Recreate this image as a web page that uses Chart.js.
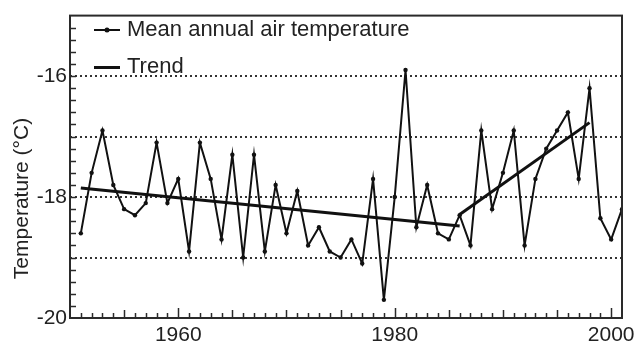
<!DOCTYPE html>
<html>
<head>
<meta charset="utf-8">
<script src="https://cdn.jsdelivr.net/npm/chart.js@4"></script>
<style>
html,body{margin:0;padding:0;background:#fff;}
#wrap{width:640px;height:343px;position:relative;}
</style>
</head>
<body>
<div id="wrap"><canvas id="c" width="640" height="343"></canvas></div>
<script>
// ---- data ----
const years = [1951,1952,1953,1954,1955,1956,1957,1958,1959,1960,1961,1962,1963,1964,1965,1966,1967,1968,1969,1970,1971,1972,1973,1974,1975,1976,1977,1978,1979,1980,1981,1982,1983,1984,1985,1986,1987,1988,1989,1990,1991,1992,1993,1994,1995,1996,1997,1998,1999,2000,2001];
const temps = [-18.6,-17.6,-16.9,-17.8,-18.2,-18.3,-18.1,-17.1,-18.1,-17.7,-18.9,-17.1,-17.7,-18.7,-17.3,-19.0,-17.3,-18.9,-17.8,-18.6,-17.9,-18.8,-18.5,-18.9,-19.0,-18.7,-19.1,-17.7,-19.7,-18.0,-15.9,-18.5,-17.8,-18.6,-18.7,-18.3,-18.8,-16.9,-18.2,-17.6,-16.9,-18.8,-17.7,-17.2,-16.9,-16.6,-17.7,-16.2,-18.35,-18.7,-18.2];
const trend1Years = [1951, 1986];
const trend1Values = [-17.85, -18.48];
const trend2Years = [1986, 1998];
const trend2Values = [-18.29, -16.77];
const xLabelTicks = [1960, 1980, 2000];
const yTicks = [-20, -19, -18, -17, -16, -15];
const yLabelTicks = [-20, -18, -16];
const seriesNames = ['Mean annual air temperature', 'Trend'];

const FONT = '"Liberation Sans", Arial, sans-serif';
const INK = '#111';

function sample(withDot, lw) {
  const c = document.createElement('canvas');
  c.width = 26; c.height = 10;
  const g = c.getContext('2d');
  g.strokeStyle = INK; g.lineWidth = lw;
  const yy = lw % 2 === 0 ? 5 : 5.5;
  g.beginPath(); g.moveTo(0, yy); g.lineTo(26, yy); g.stroke();
  if (withDot) { g.fillStyle = INK; g.beginPath(); g.arc(13, yy, 2.5, 0, Math.PI*2); g.fill(); }
  return c;
}
const sampleSeries = sample(true, 2);
const sampleTrend = sample(false, 3);

const decor = {
  id: 'decor',
  afterLayout(chart) {
    if (chart.legend) { chart.legend.left += 13; chart.legend.top += 4; }
  },
  afterDraw(chart) {
    const ctx = chart.ctx, a = chart.chartArea;
    const xs = chart.scales.x, ys = chart.scales.y;
    ctx.save();
    ctx.strokeStyle = '#2a2a2a';
    ctx.lineWidth = 1.5;
    // bottom inward ticks
    for (let yr = 1951; yr <= 2000; yr++) {
      const px = Math.round(xs.getPixelForValue(yr)) + 0.5;
      const len = yr % 20 === 0 ? 10 : (yr % 5 === 0 ? 8 : 5);
      ctx.beginPath(); ctx.moveTo(px, a.bottom); ctx.lineTo(px, a.bottom - len); ctx.stroke();
    }
    // left inward ticks
    for (let i = 1; i < 25; i++) {
      const v = -20 + i * 0.2;
      const py = Math.round(ys.getPixelForValue(v)) + 0.5;
      ctx.beginPath(); ctx.moveTo(a.left, py); ctx.lineTo(a.left + 6, py); ctx.stroke();
    }
    // frame
    ctx.lineWidth = 2;
    ctx.strokeStyle = '#2a2a2a';
    ctx.strokeRect(a.left, a.top, a.right - a.left, a.bottom - a.top);
    // y-axis title
    ctx.fillStyle = '#222';
    ctx.font = '21px ' + FONT;
    ctx.textAlign = 'center';
    ctx.textBaseline = 'alphabetic';
    ctx.translate(27.5, 198.5);
    ctx.rotate(-Math.PI / 2);
    ctx.fillText('Temperature (\u00B0C)', 0, 0);
    ctx.restore();
  }
};

new Chart(document.getElementById('c'), {
  type: 'line',
  data: {
    datasets: [
      {
        label: seriesNames[0],
        data: years.map((y, i) => ({x: y, y: temps[i]})),
        borderColor: INK, backgroundColor: INK,
        borderWidth: 2, pointRadius: 2.2, pointBackgroundColor: INK,
        pointBorderWidth: 0, tension: 0, fill: false
      },
      {
        label: seriesNames[1],
        data: trend1Years.map((y, i) => ({x: y, y: trend1Values[i]})),
        borderColor: INK, borderWidth: 3, pointRadius: 0, fill: false
      },
      {
        label: seriesNames[1] + ' 2',
        data: trend2Years.map((y, i) => ({x: y, y: trend2Values[i]})),
        borderColor: INK, borderWidth: 3, pointRadius: 0, fill: false
      }
    ]
  },
  options: {
    responsive: false,
    animation: false,
    devicePixelRatio: 1,
    layout: { padding: { top: 15, right: 18, left: 0, bottom: 0 } },
    plugins: {
      tooltip: { enabled: false },
      legend: {
        position: 'chartArea',
        align: 'start',
        labels: {
          usePointStyle: true,
          pointStyleWidth: 18,
          padding: 15,
          color: '#222',
          font: { family: FONT, size: 22 },
          generateLabels: () => [
            { text: seriesNames[0], pointStyle: sampleSeries, fillStyle: INK, strokeStyle: INK, lineWidth: 0, hidden: false, datasetIndex: 0, fontColor: '#222' },
            { text: seriesNames[1], pointStyle: sampleTrend, fillStyle: INK, strokeStyle: INK, lineWidth: 0, hidden: false, datasetIndex: 1, fontColor: '#222' }
          ]
        }
      }
    },
    scales: {
      x: {
        type: 'linear',
        min: 1950, max: 2001,
        afterBuildTicks: s => { s.ticks = xLabelTicks.map(v => ({value: v})); },
        afterFit: s => { s.height = 25; },
        grid: { display: false, drawTicks: false },
        border: { display: false },
        ticks: { autoSkip: false, maxRotation: 0, padding: 5, color: '#222', font: { family: FONT, size: 21 }, callback: v => String(v) }
      },
      y: {
        type: 'linear',
        min: -20, max: -15,
        afterBuildTicks: s => { s.ticks = yTicks.map(v => ({value: v})); },
        afterFit: s => { s.width = 70; },
        grid: {
          drawTicks: false,
          lineWidth: 2,
          color: c => (c.tick && c.tick.value > -20 && c.tick.value < -15) ? '#333' : 'rgba(0,0,0,0)'
        },
        border: { display: false, dash: [2, 3] },
        ticks: {
          padding: 3, color: '#222', font: { family: FONT, size: 21 },
          callback: v => yLabelTicks.includes(v) ? String(v) : ''
        }
      }
    }
  },
  plugins: [decor]
});
</script>
</body>
</html>
